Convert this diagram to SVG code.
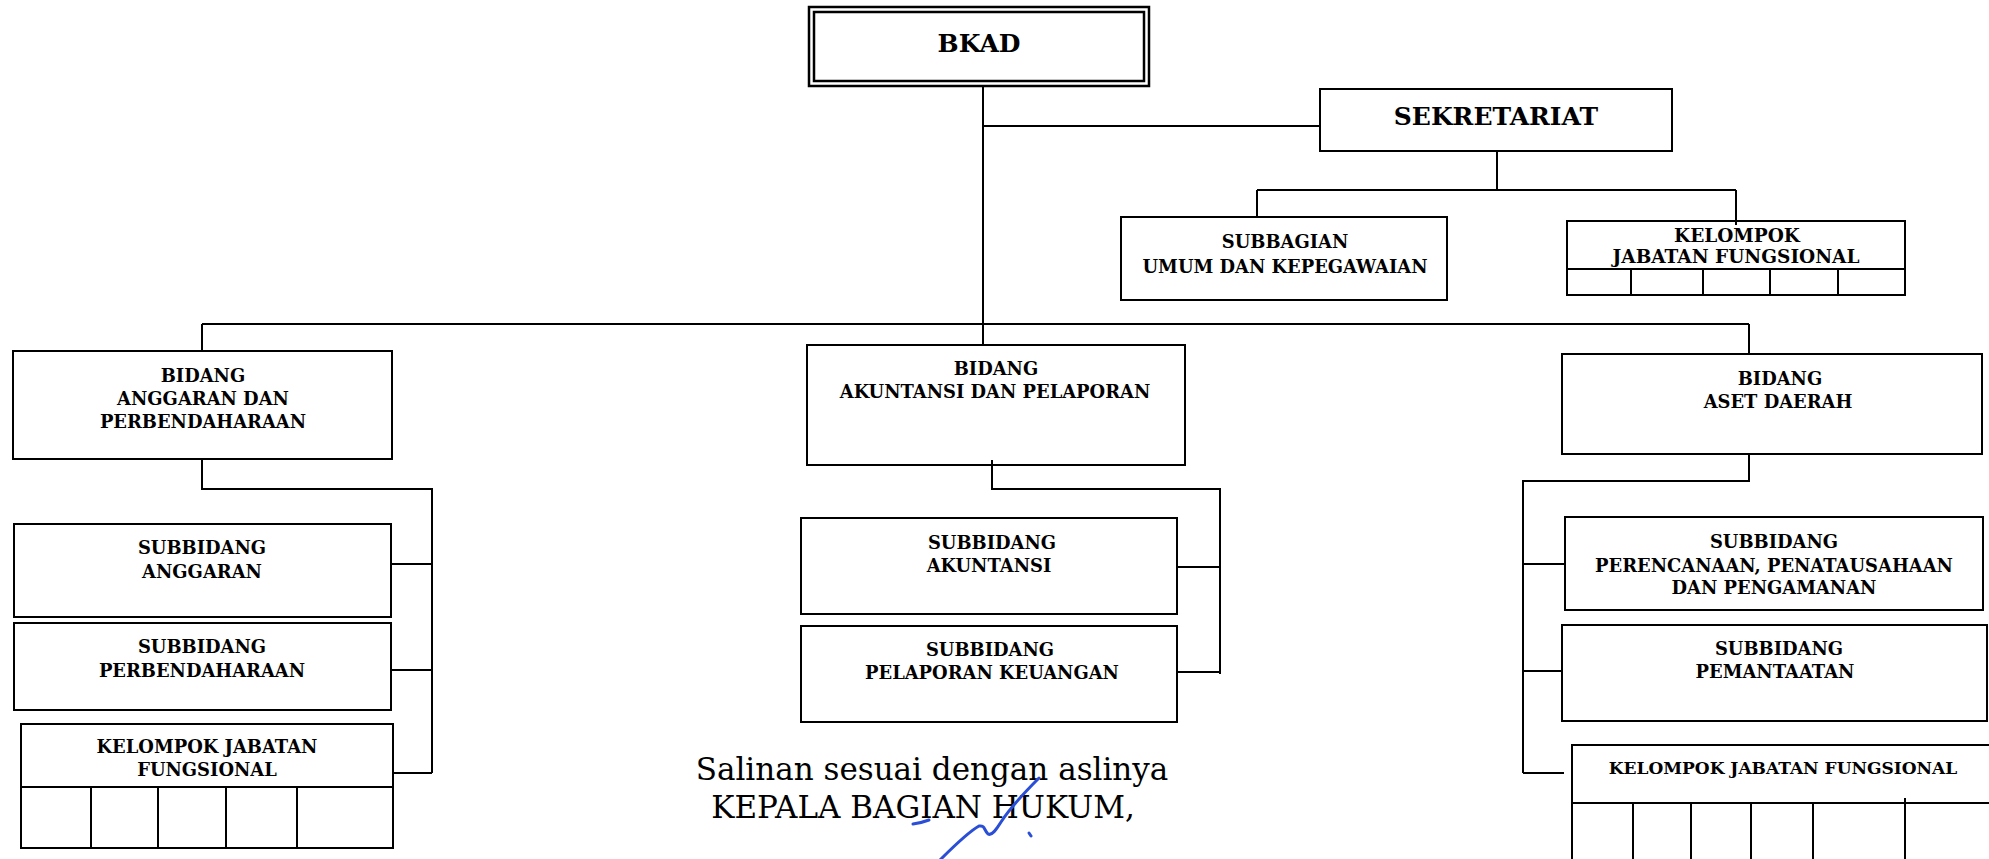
<svg xmlns="http://www.w3.org/2000/svg" width="1989" height="859" viewBox="0 0 1989 859">
<style>
.box{fill:#fff;stroke:#000;stroke-width:2}
.dbl{fill:none;stroke:#000;stroke-width:2.5}
.conn{fill:none;stroke:#000;stroke-width:2}
.t{font-family:"DejaVu Serif",serif;font-weight:bold;text-anchor:middle;fill:#000;font-size:17.9px}
.big{font-size:25px}
.mid{font-size:18.5px}
.sm{font-size:17px}
.note{font-family:"DejaVu Serif",serif;font-size:31px;text-anchor:middle;fill:#000}
.sig{fill:none;stroke:#2a4fd6;stroke-width:3;stroke-linecap:round;stroke-linejoin:round}
</style>
<rect width="1989" height="859" fill="#fff"/>
<g id="connectors">
<path class="conn" d="M983,86 V345 M983,126 H1320"/>
<path class="conn" d="M202,324 H1749 M202,324 V351 M1749,324 V354"/>
<path class="conn" d="M1497,151 V190 M1257,190 H1736 M1257,190 V217 M1736,190 V225"/>
<path class="conn" d="M202,459 V489 H432 V773 M391,564 H432 M391,670 H432 M393,773 H432"/>
<path class="conn" d="M992,460 V489 H1220 V674 M1177,567 H1220 M1177,672 H1220"/>
<path class="conn" d="M1749,454 V481 H1523 V773 M1523,564 H1565 M1523,671 H1562 M1523,773 H1564"/>
</g>
<g id="bkad">
<rect class="dbl" x="809" y="7" width="340" height="79"/>
<rect class="dbl" x="814" y="12" width="330" height="69"/>
<text class="t big" x="979" y="52">BKAD</text>
</g>
<g id="sekretariat">
<rect class="box" x="1320" y="89" width="352" height="62"/>
<text class="t big" x="1496" y="125">SEKRETARIAT</text>
</g>
<g id="subbagian-umum">
<rect class="box" x="1121" y="217" width="326" height="83"/>
<text class="t" x="1285" y="248">SUBBAGIAN</text>
<text class="t" x="1285" y="273">UMUM DAN KEPEGAWAIAN</text>
</g>
<g id="kjf-sekretariat">
<rect class="box" x="1567" y="221" width="338" height="74"/>
<path class="conn" d="M1567,269 H1905 M1631,269 V295 M1703,269 V295 M1770,269 V295 M1838,269 V295"/>
<path class="conn" d="M1736,190 V225"/>
<text class="t mid" x="1737" y="242">KELOMPOK</text>
<text class="t mid" x="1736" y="263">JABATAN FUNGSIONAL</text>
</g>
<g id="bidang-anggaran">
<rect class="box" x="13" y="351" width="379" height="108"/>
<text class="t" x="203" y="382">BIDANG</text>
<text class="t" x="203" y="405">ANGGARAN DAN</text>
<text class="t" x="203" y="428">PERBENDAHARAAN</text>
</g>
<g id="bidang-akuntansi">
<rect class="box" x="807" y="345" width="378" height="120"/>
<path class="conn" d="M992,460 V465"/>
<text class="t" x="996" y="375">BIDANG</text>
<text class="t" x="995" y="398">AKUNTANSI DAN PELAPORAN</text>
</g>
<g id="bidang-aset">
<rect class="box" x="1562" y="354" width="420" height="100"/>
<text class="t" x="1780" y="385">BIDANG</text>
<text class="t" x="1778" y="408">ASET DAERAH</text>
</g>
<g id="subbidang-anggaran">
<rect class="box" x="14" y="524" width="377" height="93"/>
<text class="t" x="202" y="554">SUBBIDANG</text>
<text class="t" x="202" y="578">ANGGARAN</text>
</g>
<g id="subbidang-perbendaharaan">
<rect class="box" x="14" y="623" width="377" height="87"/>
<text class="t" x="202" y="653">SUBBIDANG</text>
<text class="t" x="202" y="677">PERBENDAHARAAN</text>
</g>
<g id="kjf-anggaran">
<rect class="box" x="21" y="724" width="372" height="124"/>
<path class="conn" d="M21,787 H393 M91,787 V848 M158,787 V848 M226,787 V848 M297,787 V848"/>
<text class="t" x="207" y="753">KELOMPOK JABATAN</text>
<text class="t" x="207" y="776">FUNGSIONAL</text>
</g>
<g id="subbidang-akuntansi">
<rect class="box" x="801" y="518" width="376" height="96"/>
<text class="t" x="992" y="549">SUBBIDANG</text>
<text class="t" x="989" y="572">AKUNTANSI</text>
</g>
<g id="subbidang-pelaporan">
<rect class="box" x="801" y="626" width="376" height="96"/>
<text class="t" x="990" y="656">SUBBIDANG</text>
<text class="t" x="992" y="679">PELAPORAN KEUANGAN</text>
</g>
<g id="subbidang-perencanaan">
<rect class="box" x="1565" y="517" width="418" height="93"/>
<text class="t" x="1774" y="548">SUBBIDANG</text>
<text class="t" x="1774" y="572">PERENCANAAN, PENATAUSAHAAN</text>
<text class="t" x="1774" y="594">DAN PENGAMANAN</text>
</g>
<g id="subbidang-pemantaatan">
<rect class="box" x="1562" y="625" width="425" height="96"/>
<text class="t" x="1779" y="655">SUBBIDANG</text>
<text class="t" x="1775" y="678">PEMANTAATAN</text>
</g>
<g id="kjf-aset">
<rect class="box" x="1572" y="745" width="430" height="130"/>
<path class="conn" d="M1572,803 H1995 M1633,803 V860 M1691,803 V860 M1751,803 V860 M1813,803 V860 M1905,798 V860"/>
<text class="t sm" x="1783" y="774">KELOMPOK JABATAN FUNGSIONAL</text>
</g>
<g id="salinan">
<text class="note" x="932" y="780">Salinan sesuai dengan aslinya</text>
<text class="note" x="923" y="818" font-size="30.3">KEPALA BAGIAN HUKUM,</text>
<path class="sig" d="M1039,778 C1025,792 1010,808 1001,822 C996,830 992,836 988,834 C984,830 985,825 979,826 C970,831 955,845 940,860"/>
<path class="sig" d="M913,824 Q921,823 929,820"/>
<path class="sig" d="M1029,833 L1031,836"/>
</g>
</svg>
